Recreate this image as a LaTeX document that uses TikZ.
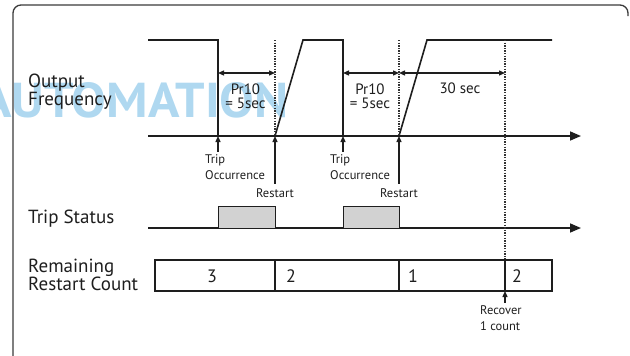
\documentclass[tikz,border=0pt]{standalone}
\usepackage{fontspec}
\setmainfont{PT Sans}
\usetikzlibrary{positioning,arrows.meta}
\definecolor{LineDark}{HTML}{1E1E1E}
\definecolor{FrameGray}{HTML}{3A3A3A}
\definecolor{DotGray}{HTML}{333333}
\definecolor{TripFill}{HTML}{D2D2D2}
\definecolor{MarkBlue}{HTML}{AFD8F0}

\begin{document}
\begin{tikzpicture}[x=1pt,y=-1pt,
  every node/.style={inner sep=0pt, text=LineDark},
  wave/.style={LineDark, line width=1.6pt},
  timeaxis/.style={LineDark, line width=1.6pt, -{Triangle[length=11pt,width=9pt]}},
  markline/.style={DotGray, line width=1.6pt, dash pattern=on 1.4pt off 1.2pt},
  uparrow/.style={LineDark, line width=1.3pt, -{Triangle[length=6pt,width=5pt]}},
  spanarrow/.style={LineDark, line width=1.3pt,
    {Triangle[length=6pt,width=5pt]}-{Triangle[length=6pt,width=5pt]}},
  sidelabel/.style={font=\fontsize{19}{18}\selectfont, align=left, anchor=base west},
  eventlabel/.style={font=\fontsize{12.5}{16}\selectfont, align=left},
  spanlabel/.style={font=\fontsize{15}{14}\selectfont, align=center, anchor=base},
  countlabel/.style={font=\fontsize{18}{18}\selectfont, anchor=base}]
  \useasboundingbox (0,0) rectangle (630,356);

  % watermark and frame
  \node[anchor=base east, text=MarkBlue, font=\fontsize{49}{49}\selectfont\bfseries,
    xscale=1.06] (mark) at (289,117) {AUTOMATION};
  \draw[FrameGray, line width=1.3pt, rounded corners=8pt]
    (13,356) -- (13,5) -- (628,5) -- (628,16);

  % row titles (base = last line)
  \node[sidelabel] (freqT) at (28,105) {Output\\Frequency};
  \node[sidelabel] (tripT) at (28,223) {Trip Status};
  \node[sidelabel] (countT) at (28,290) {Remaining\\Restart Count};

  % time axes
  \coordinate (fa0) at (148,136);
  \coordinate (fa1) at (581,136);
  \coordinate (sa0) at (148,228);
  \coordinate (sa1) at (581,228);
  \draw[timeaxis] (fa0) -- (fa1);
  \draw[timeaxis] (sa0) -- (sa1);

  % output frequency
  \draw[wave] (148,40) -- (218,40) -- (218,136);
  \draw[wave] (275,136) -- (303,40) -- (343,40) -- (343,136);
  \draw[wave] (399,136) -- (427,40) -- (552,40);

  % trip / restart events
  \foreach \tx/\rx/\n in {218/275/1, 343/399/2}{
    \coordinate (trip\n) at (\tx,136);
    \coordinate (rest\n) at (\rx,136);
    \draw[markline] (\rx,40) -- (rest\n);
    \draw[spanarrow] (\tx,73) -- (\rx,73);
    \node[spanlabel] (span\n) at ({(\tx+\rx)/2-1},108) {Pr10\\= 5sec};
    \node[eventlabel, anchor=base west] (tripL\n) at (\tx-13,179) {Trip\\Occurrence};
    \node[eventlabel, anchor=base] (restL\n) at (\rx,197) {Restart};
    \draw[uparrow] (trip\n |- tripL\n.north) ++(0,-2) -- (trip\n);
    \draw[uparrow] (rest\n |- restL\n.north) ++(0,-4) -- (rest\n);
    \draw[LineDark, line width=1pt, fill=TripFill] (\tx,228) rectangle (\rx,206);
  }
  \coordinate (recov) at (505,291);
  \draw[markline] (505,40) -- (505,260);
  \draw[spanarrow] (399,73) -- (505,73);
  \node[spanlabel] (span3) at (460,93) {30 sec};

  % remaining restart count
  \draw[LineDark, line width=1.3pt] (155,260) rectangle (552,291);
  \foreach \dx in {275,399,505}
    \draw[LineDark, line width=1.3pt] (\dx,260) -- (\dx,291);
  \node[countlabel] (c3) at (212,282) {3};
  \node[countlabel] (c2) at (291,282) {2};
  \node[countlabel] (c1) at (413,282) {1};
  \node[countlabel] (c2b) at (517,282) {2};
  \node[eventlabel, anchor=base west] (recovL) at (480,330) {Recover\\1 count};
  \draw[uparrow] (recov |- recovL.north) ++(0,-2) -- (recov);
\end{tikzpicture}
\end{document}
